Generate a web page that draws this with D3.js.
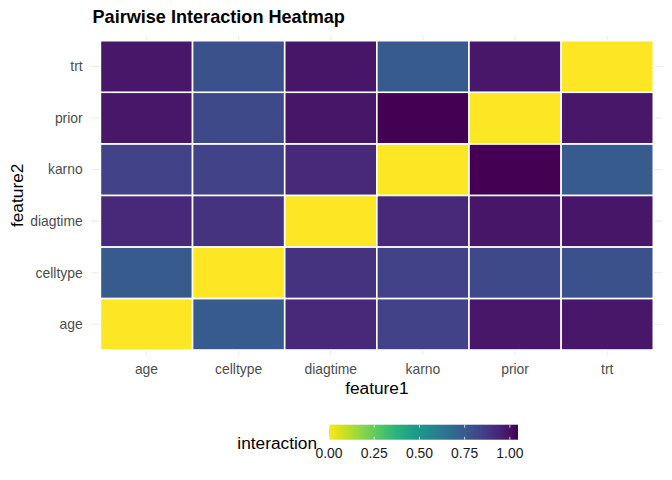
<!DOCTYPE html>
<html>
<head>
<meta charset="utf-8">
<script src="https://cdn.jsdelivr.net/npm/d3@7"></script>
<style>
  html, body { margin: 0; padding: 0; background: #fff; }
  svg { display: block; font-family: "Liberation Sans", Arial, Helvetica, sans-serif; }
</style>
</head>
<body>
<svg id="chart" width="672" height="480"></svg>
<script>
// ---- data ----
const features = ["age", "celltype", "diagtime", "karno", "prior", "trt"];
// interaction values, one array per feature2 row, ordered by feature1 = features
const rowAge      = [0.00, 0.75, 0.93, 0.84, 0.98, 0.98];
const rowCelltype = [0.75, 0.00, 0.89, 0.84, 0.815, 0.785];
const rowDiagtime = [0.93, 0.89, 0.00, 0.93, 0.985, 0.985];
const rowKarno    = [0.84, 0.84, 0.93, 0.00, 1.045, 0.75];
const rowPrior    = [0.98, 0.815, 0.985, 1.045, 0.00, 0.98];
const rowTrt      = [0.98, 0.785, 0.985, 0.75, 0.98, 0.00];
const legendTicks = [0, 0.25, 0.5, 0.75, 1.0];

const rows = { age: rowAge, celltype: rowCelltype, diagtime: rowDiagtime,
               karno: rowKarno, prior: rowPrior, trt: rowTrt };
const cells = [];
features.forEach(f2 => rows[f2].forEach((v, i) => cells.push({ f1: features[i], f2: f2, v: v })));

const svg = d3.select("#chart");
const vmax = d3.max(cells, d => d.v);
const FONT = "Liberation Sans, Arial, sans-serif";

// ---- scales ----
const x = d3.scaleBand().domain(features).range([100.4, 653.3]).padding(0);
const y = d3.scaleBand().domain(features).range([350, 40.7]).padding(0);
const color = d3.scaleSequential(t => d3.interpolateViridis(1 - t)).domain([0, vmax]);

const px0 = x.range()[0] - 0.1 * x.bandwidth(), px1 = x.range()[1] + 0.1 * x.bandwidth();
const py0 = y.range()[1] - 0.1 * y.bandwidth(), py1 = y.range()[0] + 0.1 * y.bandwidth();

// ---- grid ----
const grid = svg.append("g").attr("stroke", "#ebebeb").attr("stroke-width", 1.07);
grid.selectAll(".vx").data(features).join("line")
  .attr("x1", d => x(d) + x.bandwidth() / 2).attr("x2", d => x(d) + x.bandwidth() / 2)
  .attr("y1", py0).attr("y2", py1);
grid.selectAll(".hy").data(features).join("line")
  .attr("y1", d => y(d) + y.bandwidth() / 2).attr("y2", d => y(d) + y.bandwidth() / 2)
  .attr("x1", px0).attr("x2", px1);

// ---- tiles ----
svg.append("g").selectAll("rect").data(cells).join("rect")
  .attr("x", d => x(d.f1)).attr("y", d => y(d.f2))
  .attr("width", x.bandwidth()).attr("height", y.bandwidth())
  .attr("fill", d => color(d.v))
  .attr("stroke", "#ffffff").attr("stroke-width", 1.6);

// ---- axes ----
const xAxis = svg.append("g").attr("transform", `translate(0,${py1})`)
  .call(d3.axisBottom(x).tickSize(0).tickPadding(0));
xAxis.select(".domain").remove();
xAxis.attr("font-size", null).attr("font-family", null);
xAxis.selectAll("text").attr("y", 0).attr("dy", 0)
  .attr("transform", "translate(0,18.5)")
  .style("font-size", "13.9px").attr("fill", "#4d4d4d").style("font-family", FONT);

const yAxis = svg.append("g").attr("transform", `translate(${px0},0)`)
  .call(d3.axisLeft(y).tickSize(0).tickPadding(8.5));
yAxis.select(".domain").remove();
yAxis.attr("font-size", null).attr("font-family", null);
yAxis.selectAll("text").style("font-size", "13.9px").attr("fill", "#4d4d4d")
  .attr("dy", "0.35em").style("font-family", FONT);

// ---- titles ----
svg.append("text").attr("x", 92.5).attr("y", 22.7)
  .style("font-size", "18.1px").attr("font-weight", "bold").attr("fill", "#000")
  .text("Pairwise Interaction Heatmap");

svg.append("text").attr("x", (px0 + px1) / 2).attr("y", 394)
  .attr("text-anchor", "middle").style("font-size", "17.3px").attr("fill", "#000")
  .text("feature1");

svg.append("text").attr("transform", `translate(22.5,${(py0 + py1) / 2}) rotate(-90)`)
  .attr("text-anchor", "middle").style("font-size", "17.3px").attr("fill", "#000")
  .text("feature2");

// ---- legend ----
const lx = d3.scaleLinear().domain([0, vmax]).range([329, 518]);
const barY = 424.7, barH = 15;
const defs = svg.append("defs");
const grad = defs.append("linearGradient").attr("id", "vgrad")
  .attr("x1", "0%").attr("x2", "100%").attr("y1", "0%").attr("y2", "0%");
d3.range(0, 1.0001, 0.05).forEach(t => {
  grad.append("stop").attr("offset", (t * 100) + "%").attr("stop-color", color(t * vmax));
});
svg.append("rect").attr("x", lx(0)).attr("y", barY)
  .attr("width", lx(vmax) - lx(0)).attr("height", barH)
  .attr("fill", "url(#vgrad)");
const lt = svg.append("g").attr("stroke", "#ffffff").attr("stroke-width", 0.9).attr("opacity", 0.85);
legendTicks.forEach(t => {
  lt.append("line").attr("x1", lx(t)).attr("x2", lx(t)).attr("y1", barY).attr("y2", barY + barH * 0.2);
  lt.append("line").attr("x1", lx(t)).attr("x2", lx(t)).attr("y1", barY + barH * 0.8).attr("y2", barY + barH);
});
svg.append("g").selectAll("text").data(legendTicks).join("text")
  .attr("x", d => lx(d)).attr("y", 458.3).attr("text-anchor", "middle")
  .style("font-size", "13.9px").attr("fill", "#1a1a1a")
  .text(d => d3.format(".2f")(d));
svg.append("text").attr("x", 237.3).attr("y", 449.3)
  .style("font-size", "17.3px").attr("fill", "#000").text("interaction");
</script>
</body>
</html>
